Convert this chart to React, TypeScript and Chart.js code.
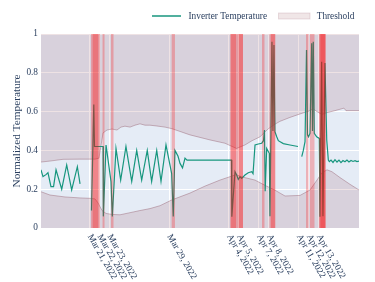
import React, { useEffect, useRef } from "react";
import { Chart, registerables } from "chart.js";

Chart.register(...registerables);

const FONT = "'Liberation Serif', 'Times New Roman', serif";
const TEXT = "#2a3f5f";

// x values: days since Mar 16, 2022 00:00
const xMin = 0.13;
const xMax = 32.06;

const tickDays = [5, 6, 7, 13, 19, 20, 22, 23, 26, 27, 28];
const tickLabels = [
  "Mar 21, 2022", "Mar 22, 2022", "Mar 23, 2022", "Mar 29, 2022",
  "Apr 4, 2022", "Apr 5, 2022", "Apr 7, 2022", "Apr 8, 2022",
  "Apr 11, 2022", "Apr 12, 2022", "Apr 13, 2022",
];
const yTicks = [0, 0.2, 0.4, 0.6, 0.8, 1];

const tempDays = [
  0.13, 0.33, 0.63, 0.83, 1.13, 1.39, 1.64, 2.21, 2.71, 3.21, 3.78, 4.05, 4.5,
  5.2, 5.43, 5.5, 6.36, 6.39, 6.66, 7.16, 7.29, 7.66, 8.13, 8.66, 9.24, 9.74,
  10.24, 10.8, 11.24, 11.75, 12.18, 12.68, 13.25, 13.41, 13.58, 13.89, 14.09,
  14.34, 14.59, 14.79, 19.26, 19.29, 19.61, 19.78, 19.94, 20.11, 20.28, 20.61,
  20.94, 21.29, 21.42, 21.62, 21.95, 22.29, 22.47, 22.57, 22.64, 22.79, 23.05,
  23.12, 23.32, 23.42, 23.52, 23.62, 23.8, 23.96, 24.46, 25.13, 25.93, 26.1,
  26.31, 26.47, 26.64, 26.79, 26.89, 26.99, 27.14, 27.31, 27.39, 27.47, 27.57,
  27.81, 28.07, 28.14, 28.31, 28.44, 28.64, 28.82, 28.98, 29.08, 29.25, 29.45,
  29.65, 29.85, 30.05, 30.25, 30.45, 30.65, 30.85, 31.05, 31.26, 31.46, 31.66,
  31.86, 32.06,
];
const tempValues = [
  0.3, 0.265, 0.275, 0.285, 0.213, 0.213, 0.3, 0.2, 0.325, 0.196, 0.316, 0.227, null,
  0.09, 0.637, 0.42, 0.42, 0.06, 0.428, 0.239, 0.06, 0.41, 0.247, 0.42, 0.24, 0.4,
  0.247, 0.4, 0.24, 0.4, 0.24, 0.428, 0.28, 0.06, 0.4, 0.37, 0.333,
  0.31, 0.36, 0.35, 0.35, 0.058, 0.29, 0.273, 0.25, 0.264, 0.256, 0.273,
  0.285, 0.29, 0.28, 0.428, 0.433, 0.437, 0.45, 0.505, 0.19, 0.41, 0.385,
  0.06, 0.96, 0.5, 0.943, 0.496, 0.47, 0.45, 0.435, 0.428, 0.42, null,
  0.368, 0.4, 0.445, 0.918, 0.48, 0.47, 0.488, 0.952, 0.5, 0.96, 0.488,
  0.47, 0.462, 0.058, 0.857, 0.06, 0.85, 0.454, 0.35, 0.342, 0.35, 0.338,
  0.352, 0.34, 0.35, 0.337, 0.348, 0.342, 0.35, 0.34, 0.348, 0.343, 0.347,
  0.342, 0.345,
];

const upperDays = [
  0.13, 1.03, 2.34, 4.05, 5.55, 5.95, 6.36, 6.76, 7.26, 7.76, 8.16, 8.56, 9.07,
  9.57, 10.07, 10.57, 11.07, 11.88, 12.58, 13.28, 15.09, 17.1, 18.6, 19.76,
  20.61, 21.32, 22.12, 22.92, 23.62, 24.13, 25.13, 26.14, 27.14, 27.44, 27.84,
  28.34, 28.85, 29.65, 30.15, 30.55, 30.75, 32.06,
];
const upperValues = [
  0.34, 0.345, 0.354, 0.355, 0.355, 0.36, 0.49, 0.505, 0.51, 0.505, 0.52, 0.525, 0.52,
  0.53, 0.537, 0.53, 0.53, 0.525, 0.52, 0.512, 0.48, 0.454, 0.437, 0.41,
  0.428, 0.45, 0.47, 0.51, 0.535, 0.55, 0.57, 0.588, 0.605, 0.615, 0.6,
  0.585, 0.595, 0.605, 0.612, 0.618, 0.605, 0.605,
];

const lowerDays = [
  0.13, 1.03, 2.54, 4.05, 5.05, 5.55, 5.85, 6.26, 6.66, 7.26, 8.06, 9.07, 10.07,
  11.07, 12.08, 13.28, 15.09, 16.6, 18.1, 19.31, 19.71, 20.41, 21.62, 22.62,
  23.62, 24.63, 26.14, 27.14, 27.84, 28.34, 28.85, 29.35, 30.15, 31.16, 32.06,
];
const lowerValues = [
  0.187, 0.17, 0.16, 0.155, 0.153, 0.15, 0.13, 0.09, 0.075, 0.07, 0.068, 0.079, 0.09,
  0.1, 0.115, 0.145, 0.18, 0.216, 0.247, 0.268, 0.275, 0.262, 0.247, 0.22,
  0.195, 0.165, 0.168, 0.196, 0.247, 0.285, 0.3, 0.29, 0.26, 0.225, 0.196,
];

const anomalyStarts = [
  5.15, 5.32, 6.31, 7.16, 13.25, 19.11, 19.21, 20.01, 22.32, 23.07, 23.22,
  26.74, 27.14, 28.04, 28.09, 28.19,
];
const anomalyEnds = [
  6.05, 5.88, 6.51, 7.41, 13.58, 20.41, 19.71, 20.41, 22.57, 23.67, 23.62,
  26.99, 27.59, 28.74, 28.69, 28.64,
];

const LINE_COLOR = "#17967e";
const THRESH_FILL = "rgba(142,63,73,0.15)";
const THRESH_LINE = "rgba(150,95,110,0.55)";
const BAND_FILL = "rgba(255,0,0,0.25)";

function pts(xs: number[], ys: (number | null)[]) {
  return xs.map((x, i) => ({ x, y: ys[i] }));
}

const bgPlugin = {
  id: "plotBg",
  beforeDraw(chart: any) {
    const { ctx, chartArea: a } = chart;
    ctx.save();
    ctx.fillStyle = "#E5ECF6";
    ctx.fillRect(a.left, a.top, a.right - a.left, a.bottom - a.top);
    ctx.restore();
  },
};

const bandPlugin = {
  id: "anomalyBands",
  afterDatasetsDraw(chart: any) {
    const { ctx, chartArea: a } = chart;
    const xs = chart.scales.x;
    ctx.save();
    ctx.fillStyle = BAND_FILL;
    anomalyStarts.forEach((s, i) => {
      const x0 = xs.getPixelForValue(s);
      const x1 = xs.getPixelForValue(anomalyEnds[i]);
      ctx.fillRect(x0, a.top, x1 - x0, a.bottom - a.top);
    });
    ctx.restore();
  },
};

const decorPlugin = {
  id: "decor",
  afterDraw(chart: any) {
    const { ctx, chartArea: a } = chart;
    const xs = chart.scales.x;
    ctx.save();
    ctx.fillStyle = TEXT;
    ctx.font = `9.3px ${FONT}`;
    ctx.textAlign = "left";
    ctx.textBaseline = "middle";
    tickDays.forEach((d, i) => {
      const x = xs.getPixelForValue(d);
      ctx.save();
      ctx.translate(x, a.bottom + 7);
      ctx.rotate(Math.PI / 3);
      ctx.fillText(tickLabels[i], 0, 0);
      ctx.restore();
    });
    // y title
    ctx.save();
    ctx.font = `11.3px ${FONT}`;
    ctx.textAlign = "center";
    ctx.textBaseline = "middle";
    ctx.translate(17.5, (a.top + a.bottom) / 2);
    ctx.rotate(-Math.PI / 2);
    ctx.fillText("Normalized Temperature", 0, 0);
    ctx.restore();
    // legend
    ctx.font = `9.3px ${FONT}`;
    ctx.textBaseline = "middle";
    ctx.strokeStyle = LINE_COLOR;
    ctx.lineWidth = 1.5;
    ctx.beginPath();
    ctx.moveTo(152, 16);
    ctx.lineTo(181, 16);
    ctx.stroke();
    ctx.fillText("Inverter Temperature", 188.5, 16.5);
    ctx.fillStyle = "rgba(142,63,73,0.13)";
    ctx.fillRect(278.5, 13, 31.5, 6);
    ctx.strokeStyle = "rgba(150,95,110,0.2)";
    ctx.lineWidth = 1;
    ctx.strokeRect(278.5, 13, 31.5, 6);
    ctx.fillStyle = TEXT;
    ctx.fillText("Threshold", 316.7, 16.5);
    ctx.restore();
  },
};

export default function App() {
  const ref = useRef<HTMLCanvasElement | null>(null);
  useEffect(() => {
    if (!ref.current) return;
    const chart = new Chart(ref.current, {
      type: "line",
      data: {
        datasets: [
          {
            label: "Inverter Temperature",
            data: pts(tempDays, tempValues),
            borderColor: LINE_COLOR,
            borderWidth: 1.2,
            pointRadius: 0,
            fill: false,
            spanGaps: false,
            tension: 0,
            order: 0,
          } as any,
          {
            label: "Threshold",
            data: pts(upperDays, upperValues),
            borderColor: THRESH_LINE,
            backgroundColor: THRESH_FILL,
            borderWidth: 0.8,
            pointRadius: 0,
            fill: "end",
            tension: 0,
            order: 1,
          },
          {
            label: "Threshold lower",
            data: pts(lowerDays, lowerValues),
            borderColor: THRESH_LINE,
            backgroundColor: THRESH_FILL,
            borderWidth: 0.8,
            pointRadius: 0,
            fill: "start",
            tension: 0,
            order: 2,
          },
        ],
      },
      options: {
        animation: false,
        responsive: false,
        devicePixelRatio: 1,
        events: [],
        layout: { padding: { left: 0, top: 34, right: 16, bottom: 0 } },
        plugins: {
          legend: { display: false },
          tooltip: { enabled: false },
          title: { display: false },
        },
        scales: {
          x: {
            type: "linear",
            min: xMin,
            max: xMax,
            afterBuildTicks: (s: any) => {
              s.ticks = tickDays.map((v) => ({ value: v }));
            },
            afterFit: (s: any) => {
              s.height = 54;
            },
            ticks: { display: false },
            grid: { color: "#ffffff", lineWidth: 1, drawTicks: false },
            border: { display: false },
          },
          y: {
            type: "linear",
            min: 0,
            max: 1,
            afterBuildTicks: (s: any) => {
              s.ticks = yTicks.map((v) => ({ value: v }));
            },
            afterFit: (s: any) => {
              s.width = 41;
            },
            ticks: {
              color: TEXT,
              font: { family: FONT, size: 9.3 },
              padding: 3,
              callback: (v: any) => String(v),
            },
            grid: { color: "#ffffff", lineWidth: 1, drawTicks: false },
            border: { display: false },
          },
        },
      },
      plugins: [bgPlugin, bandPlugin, decorPlugin],
    });
    return () => chart.destroy();
  }, []);
  return (
    <div style={{ position: "fixed", left: 0, top: 0, width: 375, height: 282, background: "#fff" }}>
      <canvas ref={ref} width={375} height={282} style={{ width: 375, height: 282, display: "block" }} />
    </div>
  );
}
